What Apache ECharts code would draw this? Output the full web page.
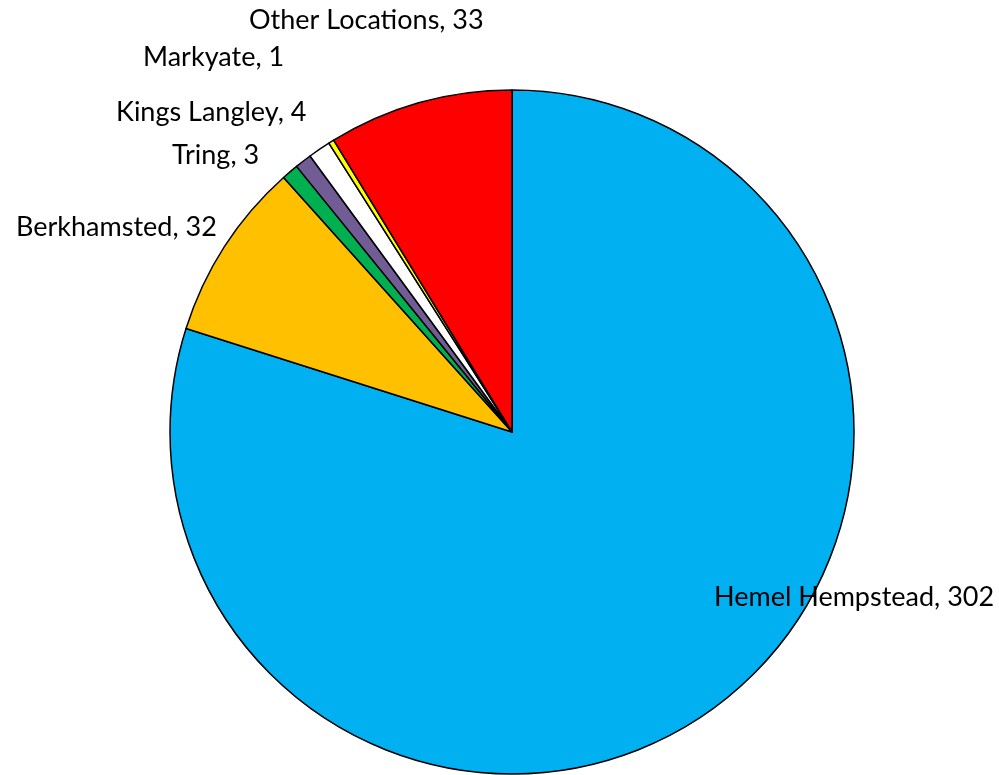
<!DOCTYPE html>
<html>
<head>
<meta charset="utf-8">
<script src="https://cdn.jsdelivr.net/npm/echarts@6/dist/echarts.min.js"></script>
<style>html,body{margin:0;padding:0;background:#fff;}#c{width:999px;height:775px;}</style>
</head>
<body>
<div id="c"></div>
<script>
// Data (clockwise from 12 o'clock)
const names = ['Hemel Hempstead', 'Berkhamsted', 'Tring', '', 'Kings Langley', 'Markyate', 'Other Locations'];
const values = [302, 32, 3, 3, 4, 1, 33];
const showLabel = [true, true, true, false, true, true, true];

// Styles / positions (kept apart from data)
const colors = ['#00B0F0', '#FFC000', '#00B050', '#725C95', '#FFFFFF', '#FFFF00', '#FF0000'];
const labelPos = [[714, 597], [16, 227], [172, 155], [0, 0], [116, 112], [143, 57], [249, 20]];

const chart = echarts.init(document.getElementById('c'), null, {renderer: 'canvas'});
chart.setOption({
  animation: false,
  backgroundColor: '#fff',
  series: [{
    type: 'pie',
    center: [512, 432],
    radius: [0, 342],
    startAngle: 90,
    clockwise: true,
    avoidLabelOverlap: false,
    itemStyle: {borderColor: '#000', borderWidth: 1.5},
    label: {
      show: true,
      position: 'outside',
      formatter: p => p.name + ', ' + p.value,
      fontFamily: 'Lato',
      fontSize: 27,
      color: '#000'
    },
    labelLine: {show: false},
    labelLayout: function (p) {
      const pos = labelPos[p.dataIndex];
      return {x: pos[0], y: pos[1], align: 'left', verticalAlign: 'middle'};
    },
    data: names.map((n, i) => ({
      name: n,
      value: values[i],
      itemStyle: {color: colors[i]},
      label: {show: showLabel[i]}
    }))
  }]
});
</script>
</body>
</html>
